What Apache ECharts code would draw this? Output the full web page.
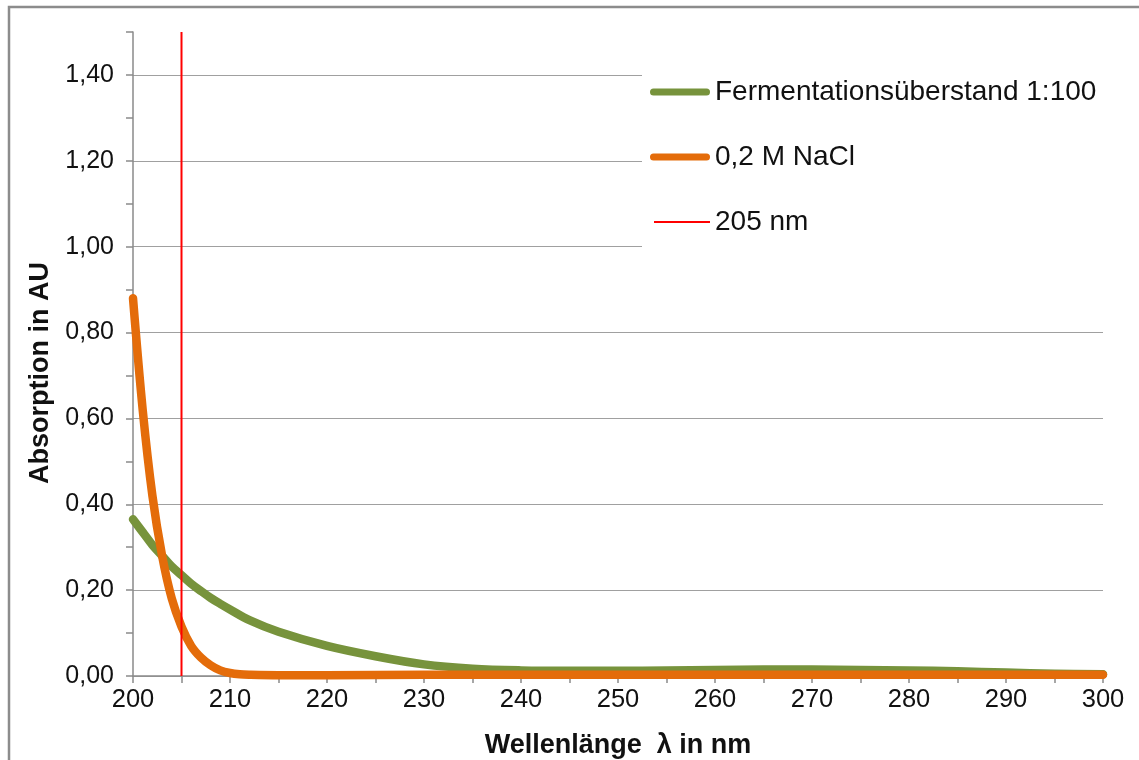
<!DOCTYPE html>
<html>
<head>
<meta charset="utf-8">
<script src="https://cdn.jsdelivr.net/npm/echarts@6/dist/echarts.min.js"></script>
<style>
  html, body { margin: 0; padding: 0; background: #fff; }
  #chart { width: 1139px; height: 760px; }
</style>
</head>
<body>
<div id="chart"></div>
<script>
// UV absorption spectra, 200–300 nm
const wavelengthsFerm = [200, 201, 202, 203, 204, 205, 206, 207, 208, 209, 210, 212, 215, 220, 225, 230, 235, 240, 245, 250, 255, 260, 265, 270, 275, 280, 285, 290, 295, 300];
const absorbFerm      = [0.365, 0.335, 0.305, 0.28, 0.255, 0.235, 0.215, 0.198, 0.182, 0.168, 0.155, 0.13, 0.103, 0.07, 0.046, 0.027, 0.017, 0.013, 0.012, 0.012, 0.013, 0.014, 0.015, 0.015, 0.014, 0.013, 0.011, 0.008, 0.005, 0.004];

const wavelengthsNaCl = [200, 201, 202, 203, 204, 205, 206, 207, 208, 209, 210, 211, 212, 215, 220, 230, 240, 250, 260, 270, 280, 290, 300];
const absorbNaCl      = [0.88, 0.62, 0.42, 0.28, 0.18, 0.115, 0.07, 0.043, 0.025, 0.013, 0.007, 0.004, 0.003, 0.002, 0.002, 0.003, 0.003, 0.003, 0.003, 0.003, 0.003, 0.003, 0.003];

const markerWavelength = 205;
const markerSpan = [0, 1.5];

const seriesNames = ['Fermentationsüberstand 1:100', '0,2 M NaCl', '205 nm'];
const xTitle = 'Wellenlänge  λ in nm';
const yTitle = 'Absorption in AU';

const FONT = '"Liberation Sans", Arial, sans-serif';
const AXIS_GREY = '#8a8a8a';
const GRID_GREY = '#a0a0a0';

// legend keys: a thick rounded bar and a thin rule, framed in a 60x27 box
const THICK_KEY = 'path://M0,0 L0,0 M3.5,10 L56.5,10 A3.5,3.5 0 0 1 56.5,17 L3.5,17 A3.5,3.5 0 0 1 3.5,10 Z M60,27 L60,27';
const THIN_KEY = 'path://M0,0 L0,0 M4,12.5 L60,12.5 L60,14.5 L4,14.5 Z M60,27 L60,27';

const pairs = (xs, ys) => xs.map((x, i) => [x, ys[i]]);

const chart = echarts.init(document.getElementById('chart'), null, { renderer: 'canvas' });

chart.setOption({
  backgroundColor: '#ffffff',
  animation: false,
  textStyle: { fontFamily: FONT },
  graphic: [{
    type: 'rect',
    silent: true,
    shape: { x: 9, y: 7, width: 1200, height: 800 },
    style: { fill: 'none', stroke: '#8c8c8c', lineWidth: 2.5 }
  }],
  grid: { left: 133, right: 36, top: 32, bottom: 84, containLabel: false, outerBoundsMode: 'none' },
  legend: {
    orient: 'vertical',
    left: 642,
    top: 66,
    padding: [12, 10, 25, 8],
    backgroundColor: '#ffffff',
    itemWidth: 60,
    itemHeight: 27,
    itemGap: 37,
    symbolKeepAspect: true,
    textStyle: { fontFamily: FONT, fontSize: 28, color: '#111' },
    data: [
      { name: seriesNames[0], icon: THICK_KEY },
      { name: seriesNames[1], icon: THICK_KEY },
      { name: seriesNames[2], icon: THIN_KEY }
    ]
  },
  xAxis: {
    type: 'value',
    min: 200,
    max: 300,
    interval: 10,
    name: xTitle,
    nameLocation: 'middle',
    nameGap: 56,
    nameTextStyle: { fontFamily: FONT, fontSize: 27, fontWeight: 'bold', color: '#111' },
    axisLine: { show: true, lineStyle: { color: AXIS_GREY, width: 1.5 } },
    axisTick: { show: true, length: 7, lineStyle: { color: AXIS_GREY, width: 1.5 } },
    minorTick: { show: true, splitNumber: 2, length: 7, lineStyle: { color: AXIS_GREY, width: 1.5 } },
    axisLabel: { fontFamily: FONT, fontSize: 25.5, color: '#111', margin: 11 },
    splitLine: { show: false }
  },
  yAxis: [{
    type: 'value',
    min: 0,
    max: 1.5,
    interval: 0.2,
    name: yTitle,
    nameLocation: 'middle',
    nameRotate: 90,
    nameGap: 76,
    nameTextStyle: { fontFamily: FONT, fontSize: 27, fontWeight: 'bold', color: '#111', padding: [0, 38, 0, 0] },
    axisLine: { show: true, lineStyle: { color: AXIS_GREY, width: 1.5 } },
    axisTick: { show: true, length: 7, lineStyle: { color: AXIS_GREY, width: 1.5 } },
    axisLabel: {
      fontFamily: FONT, fontSize: 25, color: '#111', margin: 19, showMaxLabel: false,
      formatter: v => v.toFixed(2).replace('.', ',')
    },
    splitLine: { show: true, showMaxLine: false, lineStyle: { color: GRID_GREY, width: 1.2 } }
  }, {
    // half-step ticks between the labelled values
    type: 'value',
    position: 'left',
    min: 0,
    max: 1.5,
    interval: 0.1,
    axisLine: { show: false },
    axisTick: { show: true, length: 7, lineStyle: { color: AXIS_GREY, width: 1.5 } },
    axisLabel: { show: false },
    splitLine: { show: false }
  }],
  series: [{
    name: seriesNames[0],
    type: 'line',
    data: pairs(wavelengthsFerm, absorbFerm),
    smooth: 0.35,
    showSymbol: false,
    symbol: 'none',
    color: '#77933c',
    lineStyle: { color: '#77933c', width: 8.5, cap: 'round', join: 'round' },
    z: 2
  }, {
    name: seriesNames[1],
    type: 'line',
    data: pairs(wavelengthsNaCl, absorbNaCl),
    smooth: 0.35,
    showSymbol: false,
    symbol: 'none',
    color: '#e46c0a',
    lineStyle: { color: '#e46c0a', width: 8.5, cap: 'round', join: 'round' },
    z: 3
  }, {
    name: seriesNames[2],
    type: 'line',
    data: markerSpan.map(y => [markerWavelength, y]),
    showSymbol: false,
    symbol: 'none',
    color: '#ff0000',
    lineStyle: { color: '#ff0000', width: 2 },
    z: 4
  }]
});
</script>
</body>
</html>
